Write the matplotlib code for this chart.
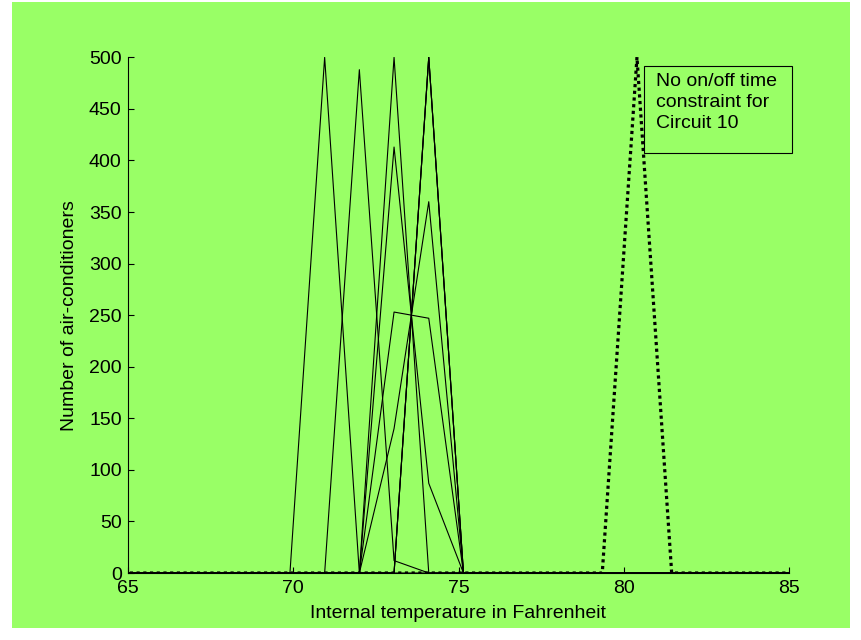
import numpy as np
import matplotlib.pyplot as plt
from matplotlib.patches import Rectangle

plt.rcParams['font.family'] = ['Liberation Sans', 'DejaVu Sans']
plt.rcParams['font.size'] = 14

# histogram bin centres (deg F)
temps = [64.65, 65.7, 66.75, 67.8, 68.85, 69.9, 70.95, 72.0, 73.05, 74.1,
         75.15, 76.2, 77.25, 78.3, 79.35, 80.4, 81.45, 82.5, 83.55, 84.6, 85.65]

# number of air-conditioners per bin, circuits 1-9 (with on/off constraint)
circ1 = [0, 0, 0, 0, 0, 0, 500, 0, 0, 0, 0, 0, 0, 0, 0, 0, 0, 0, 0, 0, 0]
circ2 = [0, 0, 0, 0, 0, 0, 0, 488, 12, 0, 0, 0, 0, 0, 0, 0, 0, 0, 0, 0, 0]
circ3 = [0, 0, 0, 0, 0, 0, 0, 0, 500, 0, 0, 0, 0, 0, 0, 0, 0, 0, 0, 0, 0]
circ4 = [0, 0, 0, 0, 0, 0, 0, 0, 413, 87, 0, 0, 0, 0, 0, 0, 0, 0, 0, 0, 0]
circ5 = [0, 0, 0, 0, 0, 0, 0, 0, 140, 360, 0, 0, 0, 0, 0, 0, 0, 0, 0, 0, 0]
circ6 = [0, 0, 0, 0, 0, 0, 0, 0, 253, 247, 0, 0, 0, 0, 0, 0, 0, 0, 0, 0, 0]
circ7 = [0, 0, 0, 0, 0, 0, 0, 0, 0, 500, 0, 0, 0, 0, 0, 0, 0, 0, 0, 0, 0]
circ8 = [0, 0, 0, 0, 0, 0, 0, 0, 0, 500, 0, 0, 0, 0, 0, 0, 0, 0, 0, 0, 0]
circ9 = [0, 0, 0, 0, 0, 0, 0, 0, 0, 500, 0, 0, 0, 0, 0, 0, 0, 0, 0, 0, 0]
# circuit 10, no on/off time constraint
circ10 = [0, 0, 0, 0, 0, 0, 0, 0, 0, 0, 0, 0, 0, 0, 0, 500, 0, 0, 0, 0, 0]

constrained = [circ1, circ2, circ3, circ4, circ5, circ6, circ7, circ8, circ9]

green = '#99ff66'

fig = plt.figure(figsize=(8.62, 6.4), dpi=100, facecolor='white')
fig.add_artist(Rectangle((12 / 862, 12 / 640), 838 / 862, 626 / 640,
                         transform=fig.transFigure, facecolor=green,
                         edgecolor='none', zorder=-10))

ax = fig.add_axes([128 / 862, 67 / 640, 661 / 862, 515.7 / 640])
ax.set_facecolor('none')

for c in constrained:
    ax.plot(temps, c, color='black', lw=0.8)
ax.plot(temps, circ10, color='black', lw=2.3, dashes=(1, 1.1),
        dash_capstyle='butt')

ax.set_xlim(65, 85)
ax.set_ylim(0, 500)
ax.set_xticks([65, 70, 75, 80, 85])
ax.set_yticks(np.arange(0, 501, 50))
ax.tick_params(direction='in', length=4.5, width=0.8, color='black',
               labelcolor='black', top=False, right=False)
ax.tick_params(axis='y', pad=4.5)
ax.tick_params(axis='x', pad=5)
for s in ['top', 'right']:
    ax.spines[s].set_visible(False)
for s in ['left', 'bottom']:
    ax.spines[s].set_linewidth(0.8)

ax.set_xlabel('Internal temperature in Fahrenheit')
ax.set_ylabel('Number of air-conditioners')
ax.xaxis.set_label_coords(0.5, -0.062)
ax.yaxis.set_label_coords(-0.0756, 0.5)

# annotation box for circuit 10
ax.add_patch(Rectangle((80.61, 407.4), 4.48, 84.3, facecolor='none',
                       edgecolor='black', lw=0.8, clip_on=False))
ax.text(80.99, 484.8, 'No on/off time\nconstraint for\nCircuit 10',
        ha='left', va='top', linespacing=1.29)

fig.savefig('out.png', dpi=100, facecolor=fig.get_facecolor())
